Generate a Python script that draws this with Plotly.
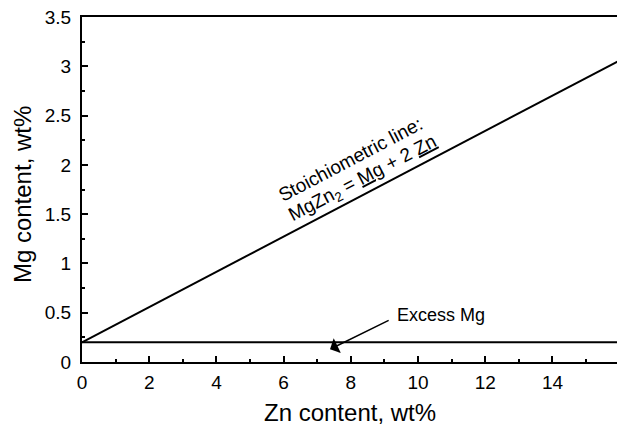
import plotly.graph_objects as go

# Stoichiometric MgZn2 line and the excess-Mg baseline
zn_stoich = [0, 16]
mg_stoich = [0.2, 3.06]
zn_excess = [0, 16]
mg_excess = [0.2, 0.2]

x_ticks = [0, 2, 4, 6, 8, 10, 12, 14]
y_ticks = [0, 0.5, 1, 1.5, 2, 2.5, 3, 3.5]

FONT = "Liberation Sans, Arial, sans-serif"

fig = go.Figure()
fig.add_trace(go.Scatter(x=zn_stoich, y=mg_stoich, mode="lines",
                         line=dict(color="black", width=2), showlegend=False))
fig.add_trace(go.Scatter(x=zn_excess, y=mg_excess, mode="lines",
                         line=dict(color="black", width=2), showlegend=False))

# Label written along the stoichiometric line
fig.add_annotation(x=7.98, y=2.05, text="Stoichiometric line:", showarrow=False,
                   textangle=-27.7, font=dict(family=FONT, size=19, color="black"))
fig.add_annotation(x=8.36, y=1.86,
                   text="MgZn<sub>2</sub> = <u>Mg</u> + 2 <u>Zn</u>", showarrow=False,
                   textangle=-27.7, font=dict(family=FONT, size=19, color="black"))

# Excess Mg label with arrow to the baseline
fig.add_annotation(x=9.31, y=0.48, text="Excess Mg", showarrow=False, xanchor="left",
                   font=dict(family=FONT, size=18, color="black"))
fig.add_annotation(x=7.38, y=0.13, ax=9.17, ay=0.43, axref="x", ayref="y",
                   text="", showarrow=True, arrowhead=1, arrowsize=1.8,
                   arrowwidth=1.5, arrowcolor="black")

# Axis titles
fig.add_annotation(x=0.5, y=-0.145, xref="paper", yref="paper", text="Zn content, wt%",
                   showarrow=False, xanchor="center", yanchor="middle",
                   font=dict(family=FONT, size=24, color="black"))
fig.add_annotation(x=-0.112, y=0.484, xref="paper", yref="paper", text="Mg content, wt%",
                   showarrow=False, textangle=-90, xanchor="center", yanchor="middle",
                   font=dict(family=FONT, size=24, color="black"))

axis_common = dict(
    showgrid=False, zeroline=False, showline=True, linecolor="black", linewidth=2,
    ticks="inside", ticklen=6, tickwidth=1.5, tickcolor="black",
    tickfont=dict(family=FONT, size=19, color="black"),
)

fig.update_xaxes(range=[0, 15.92], tickvals=x_ticks, mirror=True,
                 minor=dict(dtick=1, ticklen=3, tickcolor="black", ticks="inside"),
                 ticklabelstandoff=2,
                 **axis_common)
fig.update_yaxes(range=[0, 3.5], tickvals=y_ticks,
                 minor=dict(dtick=0.25, ticklen=3, tickcolor="black", ticks="inside"),
                 ticklabelstandoff=5,
                 **axis_common)

fig.update_layout(width=617, height=426, margin=dict(l=82, r=0, t=17, b=64),
                  plot_bgcolor="white", paper_bgcolor="white")

fig.write_html("out.html")
